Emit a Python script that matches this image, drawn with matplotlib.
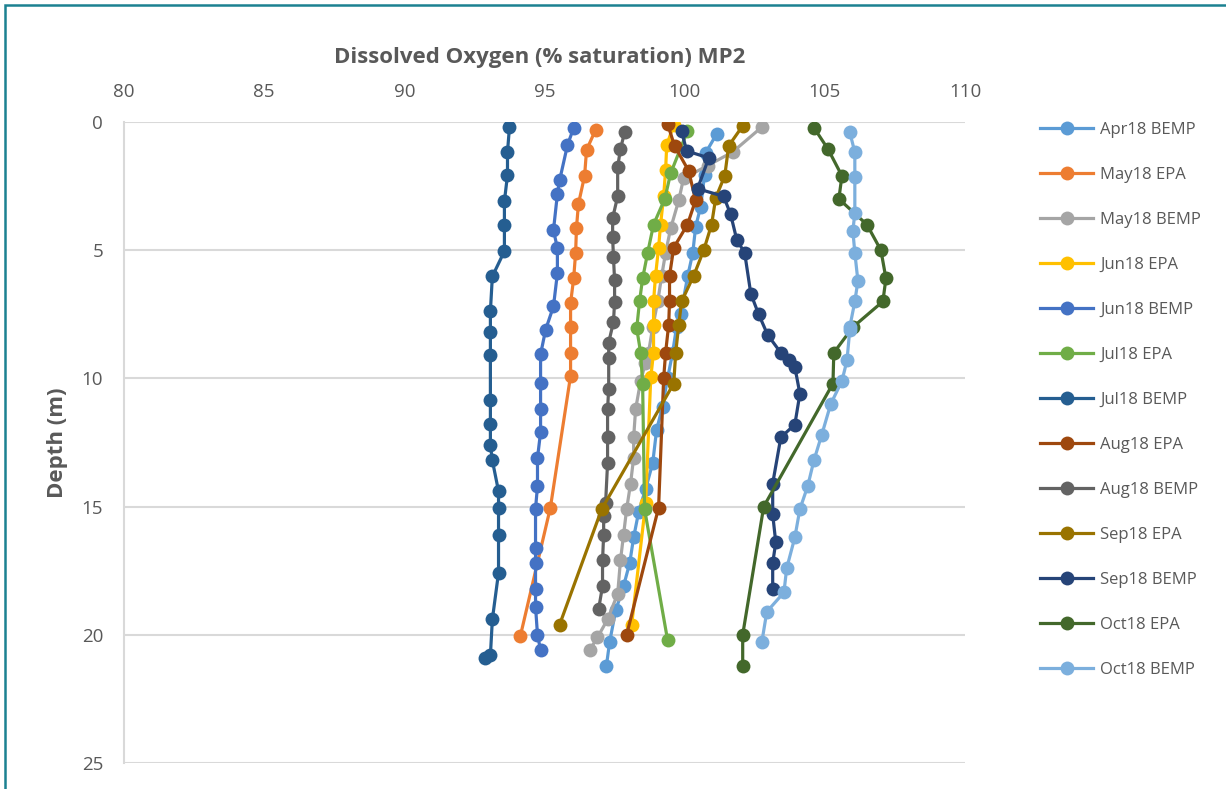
import matplotlib
matplotlib.use("Agg")
import matplotlib.pyplot as plt
from matplotlib.patches import Rectangle

# ---- data (value = DO % saturation, depth = m) ----
apr18_bemp_do = [101.14, 100.75, 100.71, 100.57, 100.39, 100.29, 100.11, 99.86, 99.71, 99.57, 99.39, 99.21, 99.0, 98.86, 98.61, 98.36, 98.18, 98.04, 97.82, 97.54, 97.32, 97.21]
apr18_bemp_d = [0.47, 1.2, 2.07, 3.3, 4.1, 5.1, 6.0, 7.5, 8.0, 9.0, 10.0, 11.1, 12.0, 13.3, 14.3, 15.2, 16.2, 17.2, 18.1, 19.05, 20.3, 21.2]

may18_epa_do = [96.82, 96.5, 96.43, 96.21, 96.14, 96.11, 96.04, 95.93, 95.93, 95.93, 95.93, 95.21, 94.14]
may18_epa_d = [0.31, 1.09, 2.1, 3.2, 4.14, 5.1, 6.1, 7.07, 8.0, 9.0, 9.9, 15.04, 20.04]

may18_bemp_do = [102.75, 101.71, 100.82, 99.96, 99.79, 99.5, 99.32, 99.18, 99.04, 98.86, 98.71, 98.6, 98.43, 98.25, 98.18, 98.18, 98.07, 97.93, 97.82, 97.71, 97.61, 97.25, 96.89, 96.61]
may18_bemp_d = [0.2, 1.17, 1.7, 2.2, 3.05, 4.15, 5.1, 6.0, 7.0, 8.0, 9.0, 9.4, 10.1, 11.2, 12.3, 13.1, 14.1, 15.1, 16.1, 17.1, 18.4, 19.4, 20.1, 20.6]

jun18_epa_do = [99.61, 99.36, 99.32, 99.25, 99.14, 99.07, 98.96, 98.89, 98.89, 98.89, 98.79, 98.61, 98.11]
jun18_epa_d = [0.12, 0.9, 1.87, 2.9, 4.0, 4.9, 6.0, 7.0, 7.9, 9.0, 9.96, 14.85, 19.6]

jun18_bemp_do = [96.04, 95.82, 95.54, 95.46, 95.32, 95.46, 95.46, 95.32, 95.04, 94.86, 94.86, 94.86, 94.86, 94.75, 94.75, 94.68, 94.68, 94.68, 94.68, 94.68, 94.75, 94.86]
jun18_bemp_d = [0.23, 0.9, 2.27, 2.81, 4.22, 4.92, 5.9, 7.19, 8.1, 9.06, 10.16, 11.2, 12.1, 13.1, 14.2, 15.08, 16.6, 17.2, 18.2, 18.9, 20.0, 20.6]

jul18_epa_do = [100.1, 99.5, 99.29, 98.89, 98.68, 98.5, 98.39, 98.29, 98.43, 98.5, 98.57, 99.39]
jul18_epa_d = [0.35, 2.0, 3.0, 4.0, 5.1, 6.1, 7.0, 8.05, 9.0, 10.2, 15.1, 20.2]

jul18_bemp_do = [93.75, 93.68, 93.68, 93.57, 93.57, 93.57, 93.14, 93.07, 93.07, 93.07, 93.07, 93.07, 93.07, 93.14, 93.36, 93.36, 93.36, 93.36, 93.14, 93.07, 92.86]
jul18_bemp_d = [0.2, 1.17, 2.07, 3.09, 4.0, 5.04, 6.02, 7.38, 8.2, 9.1, 10.86, 11.76, 12.6, 13.2, 14.4, 15.04, 16.1, 17.58, 19.4, 20.8, 20.9]

aug18_epa_do = [99.39, 99.64, 100.14, 100.39, 100.1, 99.61, 99.46, 99.46, 99.43, 99.32, 99.25, 99.07, 97.93]
aug18_epa_d = [0.08, 0.93, 1.9, 3.05, 4.0, 4.9, 6.0, 7.0, 7.9, 9.0, 10.0, 15.04, 20.0]

aug18_bemp_do = [97.86, 97.71, 97.61, 97.61, 97.43, 97.43, 97.46, 97.5, 97.5, 97.46, 97.29, 97.29, 97.29, 97.25, 97.25, 97.25, 97.18, 97.11, 97.11, 97.07, 97.07, 96.93]
aug18_bemp_d = [0.39, 1.05, 1.76, 2.9, 3.75, 4.5, 5.27, 6.17, 7.03, 7.8, 8.6, 9.2, 10.4, 11.2, 12.3, 13.3, 14.85, 15.35, 16.1, 17.1, 18.1, 19.0]

sep18_epa_do = [102.07, 101.57, 101.43, 101.11, 100.96, 100.68, 100.32, 99.89, 99.79, 99.68, 99.61, 97.04, 95.54]
sep18_epa_d = [0.15, 0.93, 2.1, 2.95, 4.0, 5.0, 6.0, 7.0, 7.9, 9.0, 10.2, 15.1, 19.6]

sep18_bemp_do = [99.89, 100.07, 100.86, 100.46, 101.39, 101.64, 101.86, 102.14, 102.36, 102.64, 102.96, 103.43, 103.71, 103.93, 104.11, 103.93, 103.43, 103.14, 103.14, 103.25, 103.14, 103.14]
sep18_bemp_d = [0.35, 1.13, 1.4, 2.6, 2.9, 3.6, 4.6, 5.1, 6.7, 7.5, 8.3, 9.0, 9.3, 9.55, 10.6, 11.8, 12.3, 14.1, 15.3, 16.4, 17.2, 18.2]

oct18_epa_do = [104.61, 105.11, 105.61, 105.5, 106.5, 107.0, 107.18, 107.07, 106.0, 105.32, 105.29, 102.82, 102.07, 102.07]
oct18_epa_d = [0.22, 1.05, 2.1, 3.0, 4.0, 5.0, 6.1, 7.0, 8.0, 9.0, 10.2, 15.0, 20.0, 21.2]

oct18_bemp_do = [105.89, 106.07, 106.07, 106.07, 106.0, 106.07, 106.18, 106.07, 105.89, 105.89, 105.79, 105.61, 105.21, 104.89, 104.61, 104.39, 104.11, 103.93, 103.64, 103.54, 102.93, 102.75]
oct18_bemp_d = [0.4, 1.18, 2.16, 3.55, 4.25, 5.1, 6.2, 7.0, 8.0, 8.1, 9.3, 10.1, 11.0, 12.2, 13.2, 14.2, 15.1, 16.2, 17.4, 18.35, 19.1, 20.3]

series_names = ["Apr18 BEMP", "May18 EPA", "May18 BEMP", "Jun18 EPA", "Jun18 BEMP", "Jul18 EPA",
                "Jul18 BEMP", "Aug18 EPA", "Aug18 BEMP", "Sep18 EPA", "Sep18 BEMP", "Oct18 EPA", "Oct18 BEMP"]
series_colors = ["#5B9BD5", "#ED7D31", "#A5A5A5", "#FFC000", "#4472C4", "#70AD47",
                 "#255E91", "#9E480E", "#636363", "#997300", "#264478", "#43682B", "#7CAFDD"]
series_data = [
    (apr18_bemp_do, apr18_bemp_d), (may18_epa_do, may18_epa_d), (may18_bemp_do, may18_bemp_d),
    (jun18_epa_do, jun18_epa_d), (jun18_bemp_do, jun18_bemp_d), (jul18_epa_do, jul18_epa_d),
    (jul18_bemp_do, jul18_bemp_d), (aug18_epa_do, aug18_epa_d), (aug18_bemp_do, aug18_bemp_d),
    (sep18_epa_do, sep18_epa_d), (sep18_bemp_do, sep18_bemp_d), (oct18_epa_do, oct18_epa_d),
    (oct18_bemp_do, oct18_bemp_d),
]

x_ticks = [80, 85, 90, 95, 100, 105, 110]
y_ticks = [0, 5, 10, 15, 20, 25]

plt.rcParams['font.family'] = ['Open Sans', 'DejaVu Sans']
txt = "#595959"

fig = plt.figure(figsize=(12.26, 7.89), dpi=100)
ax = fig.add_axes([124/1226, 1-763/789, (965-124)/1226, (763-122)/789])

for (xs, ys), name, col in zip(series_data, series_names, series_colors):
    ax.plot(xs, ys, color=col, lw=2.3, marker='o', markersize=10, markeredgewidth=0,
            label=name, solid_joinstyle='round')

ax.set_xlim(80, 110)
ax.set_ylim(25, 0)
ax.set_xticks(x_ticks)
ax.set_yticks(y_ticks)
ax.xaxis.tick_top()
ax.tick_params(axis='both', length=0, labelsize=13.5, colors=txt)
ax.tick_params(axis='x', pad=15)
ax.tick_params(axis='y', pad=15)
ax.grid(axis='y', color='#D9D9D9', lw=1.5)
ax.set_axisbelow(True)
for s in ax.spines.values():
    s.set_visible(False)
ax.spines['left'].set_visible(True)
ax.spines['left'].set_color('#D9D9D9')
ax.spines['left'].set_linewidth(1.5)

fig.text(540/1226, 1-57/789, "Dissolved Oxygen (% saturation) MP2", fontsize=16, fontweight='bold',
         color=txt, ha='center', va='center')
fig.text(57/1226, 1-443/789, "Depth (m)", fontsize=16, fontweight='bold', color=txt,
         ha='center', va='center', rotation=90)

leg = ax.legend(loc='upper left', bbox_to_anchor=(1025/1226, 1-107/789), bbox_transform=fig.transFigure,
                frameon=False, fontsize=12, labelspacing=1.74, handlelength=3.2, handletextpad=0.4,
                labelcolor=txt)

# figure border (teal), visible on left and top
fig.patches.append(Rectangle((5/1226, -0.05), 1.2, 1-5/789+0.05, transform=fig.transFigure,
                             fill=False, edgecolor='#1C8191', lw=1.8))

fig.savefig("out.png", dpi=100, facecolor='white')
